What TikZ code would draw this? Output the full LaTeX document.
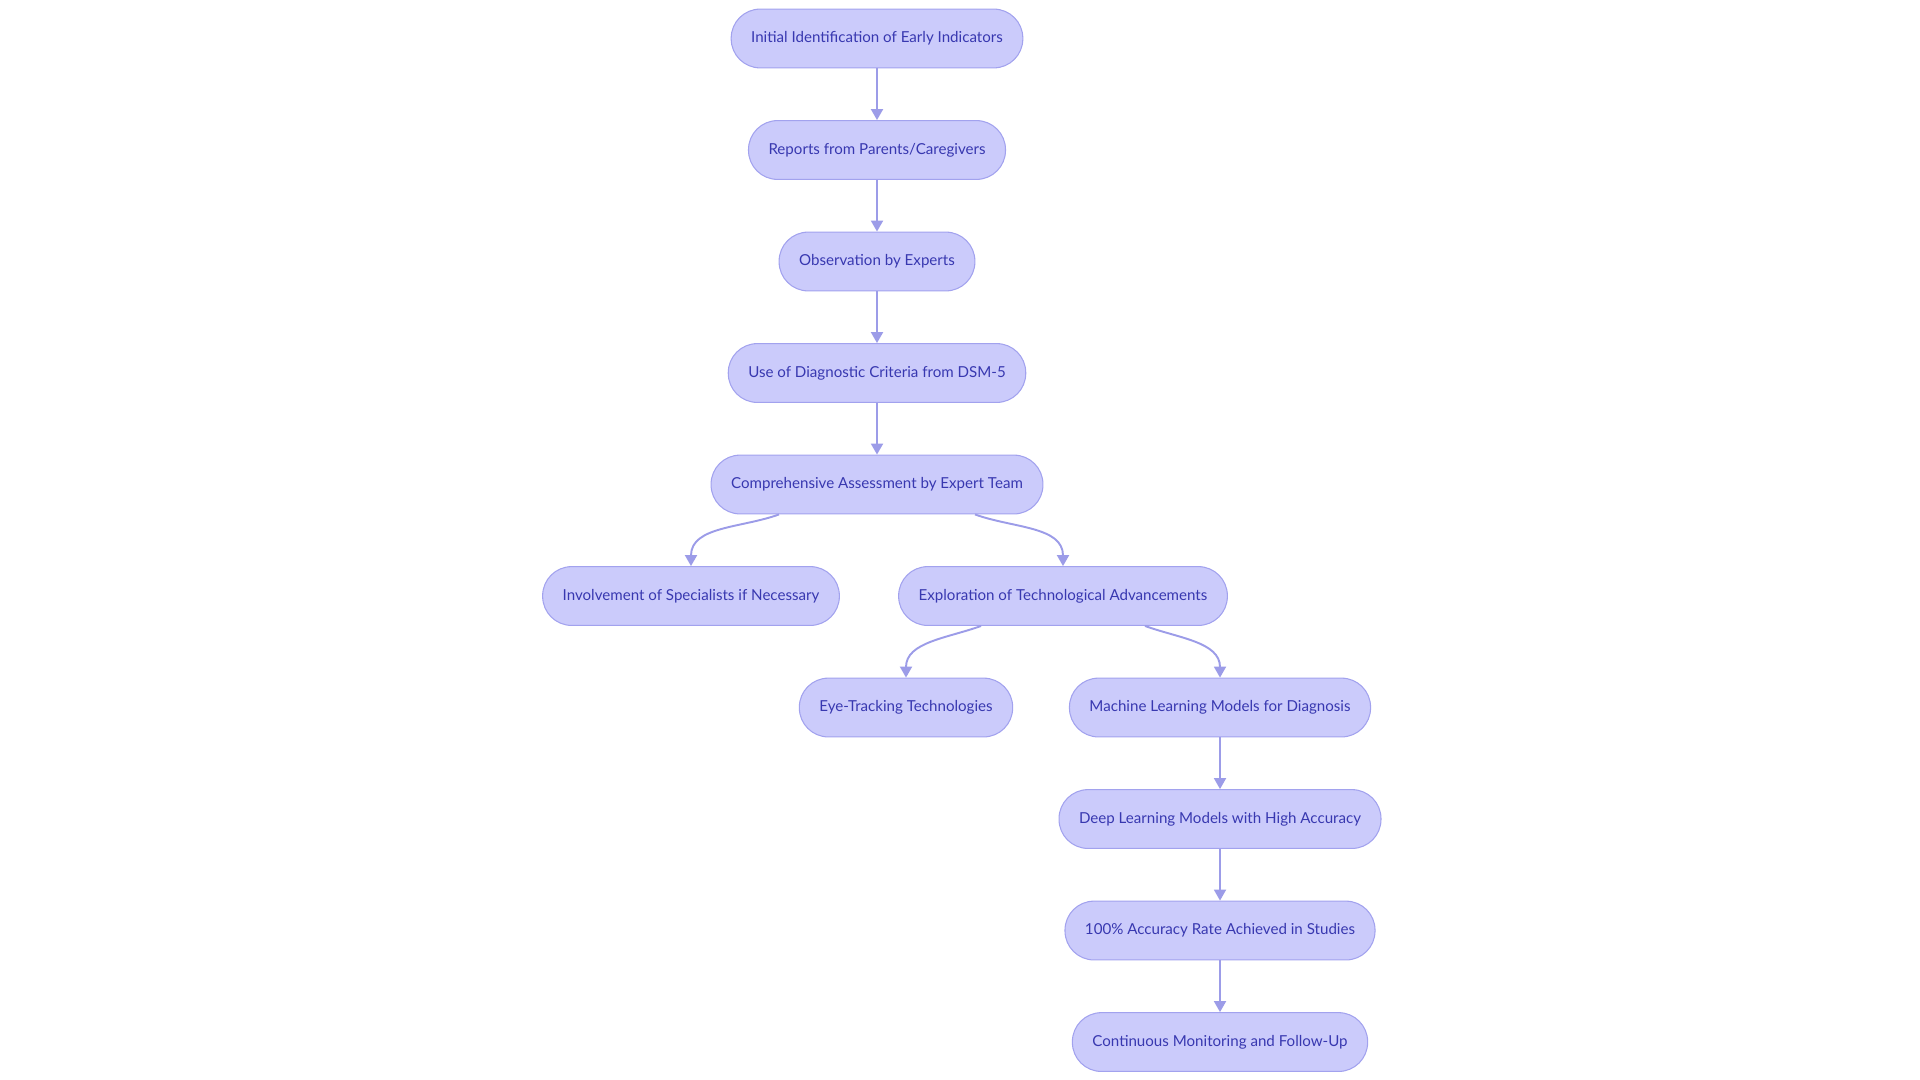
\documentclass[tikz,border=0pt]{standalone}
\usepackage{fontspec}
\setmainfont{Lato}
\usetikzlibrary{arrows.meta, positioning}
\definecolor{boxfill}{HTML}{CBCBFB}
\definecolor{boxline}{HTML}{A2A2EE}
\definecolor{boxtext}{HTML}{3838B0}
\definecolor{edgeline}{HTML}{9C9CE8}

\begin{document}
\begin{tikzpicture}[
    node distance=1.033cm,
    stage/.style={rectangle, draw=boxline, fill=boxfill, rounded corners=0.58cm, minimum height=1.176cm, inner xsep=0.4cm, text=boxtext, font=\fontsize{8.6}{10}\selectfont, line width=0.6pt},
    arrow/.style={-{Triangle[width=0.24cm, length=0.22cm]}, draw=edgeline, line width=1.1pt},
]
\useasboundingbox (0,0) rectangle (38.4,-21.6);

% Main vertical flow
\node[stage] (early) at (17.54,-0.77) {Initial Identification of Early Indicators};
\node[stage, below=of early] (reports) {Reports from Parents/Caregivers};
\node[stage, below=of reports] (observe) {Observation by Experts};
\node[stage, below=of observe] (dsm) {Use of Diagnostic Criteria from DSM-5};
\node[stage, below=of dsm] (assess) {Comprehensive Assessment by Expert Team};

% Branches
\node[stage, below=of assess, xshift=-3.72cm] (special) {Involvement of Specialists if Necessary};
\node[stage, below=of assess, xshift=3.72cm] (tech) {Exploration of Technological Advancements};
\node[stage, below=of tech, xshift=-3.14cm] (eye) {Eye-Tracking Technologies};
\node[stage, below=of tech, xshift=3.14cm] (ml) {Machine Learning Models for Diagnosis};

% Machine learning column
\node[stage, below=of ml] (deep) {Deep Learning Models with High Accuracy};
\node[stage, below=of deep] (rate) {100\% Accuracy Rate Achieved in Studies};
\node[stage, below=of rate] (followup) {Continuous Monitoring and Follow-Up};

% Arrows
\draw[arrow] (early) -- (reports);
\draw[arrow] (reports) -- (observe);
\draw[arrow] (observe) -- (dsm);
\draw[arrow] (dsm) -- (assess);

\draw[arrow] ([xshift=-1.96cm]assess.south) to[out=200, in=90] (special.north);
\draw[arrow] ([xshift=1.96cm]assess.south) to[out=-20, in=90] (tech.north);
\draw[arrow] ([xshift=-1.64cm]tech.south) to[out=200, in=90] (eye.north);
\draw[arrow] ([xshift=1.64cm]tech.south) to[out=-20, in=90] (ml.north);

\draw[arrow] (ml) -- (deep);
\draw[arrow] (deep) -- (rate);
\draw[arrow] (rate) -- (followup);

\end{tikzpicture}
\end{document}
